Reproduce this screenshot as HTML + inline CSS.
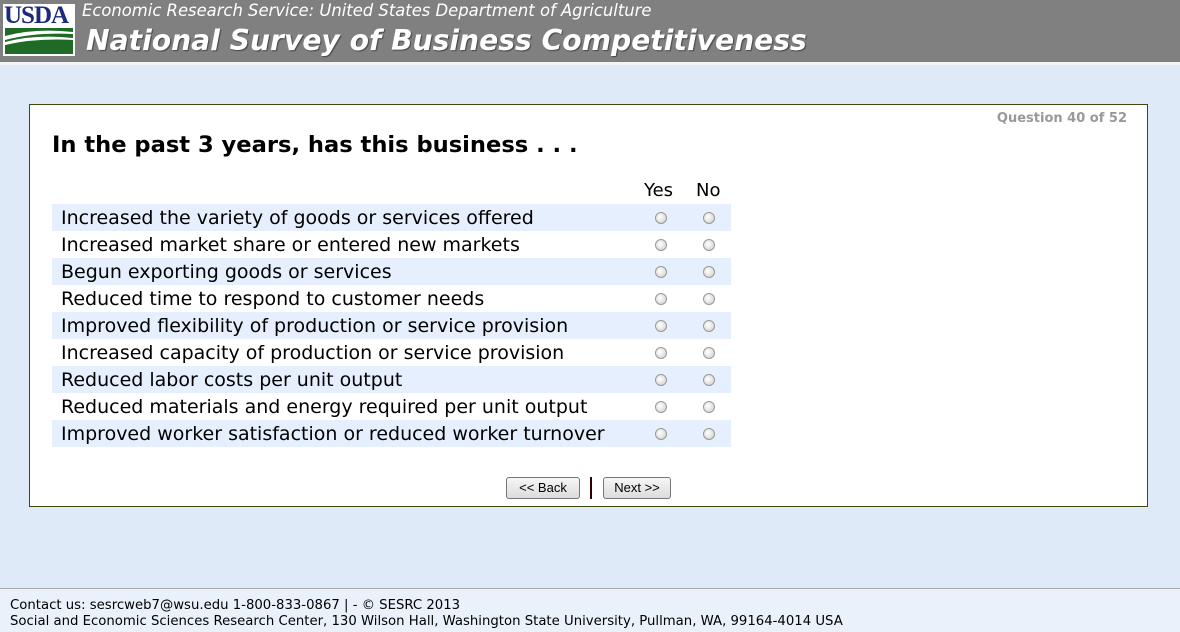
<!DOCTYPE html>
<html><head><style>
body{margin:0;width:1180px;height:631px;background:#dfeaf8;font-family:"DejaVu Sans",Verdana,sans-serif;position:relative;overflow:hidden}
.hdr{position:absolute;left:0;top:0;width:1180px;height:62px;background:#808080;border-bottom:3px solid #f4f4f4}
.logo{position:absolute;left:3px;top:4px;width:72px;height:52px;background:#fff}
.logo .t{position:absolute;left:1px;top:-2px;font-family:"Liberation Serif",serif;font-weight:bold;font-size:25px;color:#1b2a7a;letter-spacing:-1px}
.logo .g{position:absolute;left:2px;top:24px;width:68px;height:26px;background:#1f6a25;overflow:hidden}
.s1{position:absolute;left:82px;top:1px;font-style:italic;font-size:16.4px;color:#fff}
.s2{position:absolute;left:86px;top:24px;font-style:italic;font-weight:bold;font-size:28.2px;color:#fff;text-shadow:1px 1px 1px #444}
.panel{position:absolute;left:29px;top:104px;width:1117px;height:401px;background:#fff;border:1px solid #3a4a10}
.q{position:absolute;right:20px;top:6px;font-size:13px;font-weight:bold;color:#999}
h1{position:absolute;left:22px;top:27px;margin:0;font-size:22.6px;font-weight:bold;color:#000}
.yn{position:absolute;top:75px;font-size:18px}
.row{position:absolute;left:22px;width:679px;height:27px;font-size:19px;line-height:28px}
.row span{position:absolute;left:9px;white-space:nowrap}
.sh{background:#e5effd}
.r{position:absolute;top:8px;width:10px;height:10px;border-radius:50%;border:1px solid #999;background:radial-gradient(circle at 40% 40%,#fff,#ccc)}
.btn{position:absolute;top:372px;height:20px;border:1px solid #777;border-radius:3px;background:linear-gradient(#f6f6f6,#dcdcdc);font-family:"Liberation Sans",Arial,sans-serif;font-size:13px;line-height:20px;text-align:center}
.ft{position:absolute;left:0;top:588px;width:1180px;height:43px;background:#e9f1fb;border-top:1px solid #aaa;font-size:13.25px;color:#000}
</style></head><body>
<div class="hdr">
<div class="logo"><div class="t">USDA</div><div class="g"><svg width="68" height="26"><path d="M0 8 Q30 0 68 4 L68 6 Q30 4 0 12Z" fill="#fff"/><path d="M0 14 Q30 6 68 10 L68 12 Q30 10 0 17Z" fill="#fff"/></svg></div></div>
<div class="s1">Economic Research Service: United States Department of Agriculture</div>
<div class="s2">National Survey of Business Competitiveness</div>
</div>
<div class="panel">
<div class="q">Question 40 of 52</div>
<h1>In the past 3 years, has this business . . .</h1>
<div class="yn" style="left:614px">Yes</div><div class="yn" style="left:666px">No</div>
<div class="row sh" style="top:99px"><span>Increased the variety of goods or services offered</span><i class="r" style="left:603px"></i><i class="r" style="left:651px"></i></div>
<div class="row" style="top:126px"><span>Increased market share or entered new markets</span><i class="r" style="left:603px"></i><i class="r" style="left:651px"></i></div>
<div class="row sh" style="top:153px"><span>Begun exporting goods or services</span><i class="r" style="left:603px"></i><i class="r" style="left:651px"></i></div>
<div class="row" style="top:180px"><span>Reduced time to respond to customer needs</span><i class="r" style="left:603px"></i><i class="r" style="left:651px"></i></div>
<div class="row sh" style="top:207px"><span>Improved flexibility of production or service provision</span><i class="r" style="left:603px"></i><i class="r" style="left:651px"></i></div>
<div class="row" style="top:234px"><span>Increased capacity of production or service provision</span><i class="r" style="left:603px"></i><i class="r" style="left:651px"></i></div>
<div class="row sh" style="top:261px"><span>Reduced labor costs per unit output</span><i class="r" style="left:603px"></i><i class="r" style="left:651px"></i></div>
<div class="row" style="top:288px"><span>Reduced materials and energy required per unit output</span><i class="r" style="left:603px"></i><i class="r" style="left:651px"></i></div>
<div class="row sh" style="top:315px"><span>Improved worker satisfaction or reduced worker turnover</span><i class="r" style="left:603px"></i><i class="r" style="left:651px"></i></div>
<div class="btn" style="left:476px;width:72px">&lt;&lt; Back</div>
<div style="position:absolute;left:560px;top:372px;width:2px;height:22px;background:#300"></div>
<div class="btn" style="left:573px;width:66px">Next &gt;&gt;</div>
</div>
<div class="ft"><div style="position:absolute;left:10px;top:9px">Contact us: sesrcweb7@wsu.edu 1-800-833-0867 | - © SESRC 2013</div>
<div style="position:absolute;left:10px;top:25px">Social and Economic Sciences Research Center, 130 Wilson Hall, Washington State University, Pullman, WA, 99164-4014 USA</div></div>
</body></html>
